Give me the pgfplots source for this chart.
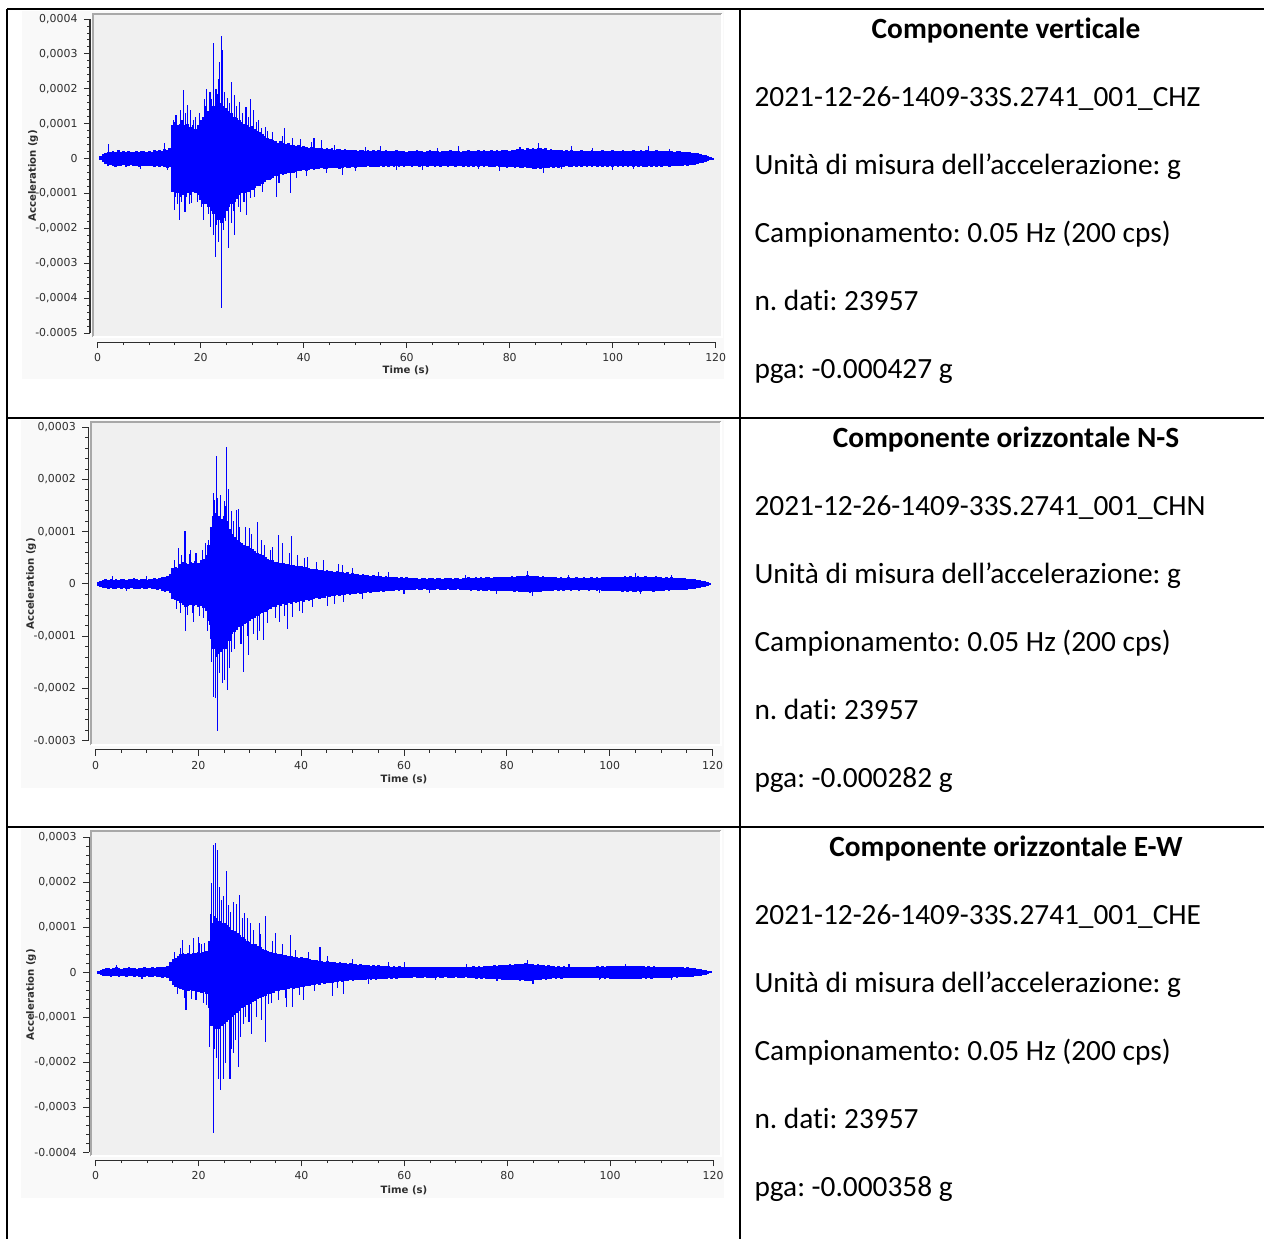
\documentclass[border=0pt]{standalone}
\usepackage{pgfplots}
\pgfplotsset{compat=1.18}
\usepackage{pgfplotstable}
\usepackage{fontspec}
\setmainfont{Carlito}[Ligatures=NoCommon]
\newfontfamily\dv{DejaVu Sans}
\frenchspacing
\definecolor{panel}{HTML}{F9F9F9}
\definecolor{plotbg}{HTML}{F0F0F0}
\definecolor{frm}{HTML}{A8A8A8}
\definecolor{axc}{HTML}{2E2E2E}
\definecolor{trace}{HTML}{0000FF}

% ---- CHZ (values in micro-g) ----
\pgfplotstableread{
t u l
0 0 0
0.5 6 -5
1 12 -10
1.5 16 -15
2 20 -21
2.5 18 -19
3 22 -20
3.5 19 -23
4 24 -20
4.5 19 -21
5 21 -18
5.5 20 -23
6 23 -20
6.5 20 -19
7 18 -22
7.5 22 -20
8 20 -24
8.5 23 -21
9 21 -20
9.5 19 -22
10 23 -20
10.5 20 -22
11 24 -23
11.5 22 -20
12 25 -24
12.5 23 -22
13 28 -25
13.5 26 -28
14 30 -25
14.5 95 -95
15 105 -110
15.5 95 -100
16 100 -110
16.5 110 -105
17 95 -110
17.5 100 -100
18 90 -105
18.5 95 -95
19 85 -100
19.5 95 -105
20 110 -120
20.5 120 -130
21 125 -130
21.5 135 -140
22 140 -150
22.5 150 -160
23 150 -165
23.5 160 -175
24 160 -185
24.5 150 -170
25 145 -150
25.5 135 -140
26 130 -130
26.5 120 -125
27 115 -115
27.5 110 -105
28 105 -100
28.5 100 -100
29 95 -95
29.5 90 -95
30 92 -90
30.5 85 -85
31 80 -80
31.5 75 -78
32 70 -72
32.5 65 -68
33 60 -62
33.5 55 -58
34 52 -55
34.5 50 -50
35 46 -50
35.5 50 -45
36 45 -48
36.5 42 -45
37 44 -40
37.5 40 -42
38 38 -40
38.5 36 -38
39 38 -35
39.5 34 -36
40 35 -33
40.5 32 -35
41 31 -33
41.5 33 -30
42 30 -32
42.5 31 -29
43 29 -31
43.5 30 -28
44 28 -30
44.5 30 -29
45 27 -28
45.5 29 -27
46 26 -28
46.5 28 -26
47 27 -29
47.5 25 -27
48 27 -25
48.5 26 -27
49 24 -26
49.5 26 -24
50 25 -26
50.5 23 -24
51 26 -23
51.5 24 -25
52 22 -24
52.5 25 -22
53 23 -25
53.5 24 -23
54 22 -24
54.5 25 -23
55 23 -22
55.5 22 -25
56 24 -22
56.5 21 -23
57 23 -21
57.5 22 -24
58 24 -22
58.5 21 -23
59 23 -21
59.5 22 -23
60 20 -22
60.5 23 -21
61 21 -23
61.5 22 -20
62 24 -22
62.5 21 -24
63 23 -21
63.5 20 -22
64 22 -23
64.5 24 -21
65 21 -22
65.5 23 -24
66 22 -21
66.5 20 -23
67 23 -22
67.5 21 -20
68 22 -23
68.5 24 -21
69 21 -22
69.5 23 -24
70 22 -21
70.5 20 -22
71 23 -24
71.5 21 -21
72 24 -23
72.5 22 -22
73 21 -24
73.5 23 -21
74 25 -23
74.5 22 -22
75 24 -25
75.5 21 -22
76 23 -24
76.5 25 -23
77 22 -25
77.5 24 -22
78 23 -24
78.5 26 -25
79 24 -23
79.5 25 -26
80 23 -24
80.5 26 -25
81 24 -27
81.5 27 -24
82 25 -26
82.5 28 -27
83 26 -25
83.5 29 -28
84 27 -26
84.5 30 -29
85 28 -31
85.5 31 -28
86 29 -30
86.5 27 -28
87 29 -26
87.5 26 -28
88 27 -25
88.5 25 -27
89 26 -24
89.5 24 -26
90 25 -23
90.5 23 -25
91 24 -22
91.5 22 -24
92 24 -23
92.5 21 -22
93 23 -24
93.5 22 -21
94 24 -23
94.5 21 -22
95 23 -24
95.5 22 -21
96 24 -23
96.5 21 -22
97 23 -24
97.5 22 -21
98 24 -23
98.5 22 -22
99 23 -24
99.5 21 -22
100 24 -23
100.5 22 -21
101 23 -24
101.5 21 -22
102 24 -23
102.5 22 -21
103 23 -24
103.5 21 -22
104 24 -23
104.5 22 -21
105 23 -24
105.5 25 -22
106 22 -24
106.5 24 -23
107 21 -22
107.5 23 -24
108 22 -21
108.5 24 -23
109 21 -22
109.5 23 -24
110 22 -21
110.5 23 -22
111 21 -23
111.5 22 -20
112 20 -22
112.5 22 -21
113 21 -20
113.5 19 -21
114 20 -19
114.5 18 -20
115 19 -18
115.5 17 -18
116 16 -17
116.5 15 -15
117 13 -14
117.5 11 -12
118 9 -9
118.5 7 -7
119 5 -5
119.5 3 -3
120 0 0
}\bandA
\pgfplotstableread{
t v
2.1 43
8.3 -30
13 45
13.6 -33
14.8 110
14.9 -147
15.2 125
15.5 -130
15.85 -176
16.0 140
16.3 -125
16.6 198
16.95 -152
17.0 130
17.4 153
17.8 -130
18.05 139
18.25 -128
18.6 110
18.9 120
19.3 -125
19.8 130
20.2 -140
20.5 -176
20.65 170
21.0 150
21.2 200
21.5 -160
21.8 192
21.9 -195
22.1 170
22.45 330
22.55 -219
22.8 -281
22.97 200
23.0 -190
23.2 185
23.4 227
23.5 -238
23.6 278
24.0 350
24.07 -427
24.3 310
24.4 -205
24.7 190
24.9 -180
25.2 175
25.4 -257
25.6 160
25.9 220
26.0 -185
26.3 -150
26.5 -219
26.65 182
27.0 150
27.3 -140
27.6 163
27.7 -152
28.2 130
28.4 -125
28.8 149
28.9 -162
29.2 120
29.6 170
29.7 -114
30.2 139
30.5 -110
30.8 105
31.2 -80
31.3 110
31.8 87
32.0 -95
32.6 90
33.0 80
33.45 -61
34.0 75
34.75 -109
35.2 -70
35.8 65
36.2 87
37.35 -100
37.8 60
38.6 -55
39.4 55
40.5 -50
41.5 48
42.0 58
43.5 53
44.5 -42
46 40
47.6 -47
50 -36
52 34
55 35
58 -32
63 -33
66 30
70 36
74 -31
78 -35
82 34
85.5 44
86.5 -40
90 -30
92 36
96 30
100 -34
104 -31
107 35
111 28
}\spikeA

% ---- CHN ----
\pgfplotstableread{
t u l
0 0 0
0.5 3 -3
1 6 -5
1.5 8 -7
2 9 -8
2.5 8 -9
3 10 -8
3.5 8 -9
4 9 -10
4.5 8 -8
5 10 -9
5.5 9 -8
6 8 -10
6.5 10 -9
7 9 -8
7.5 11 -9
8 9 -10
8.5 8 -9
9 10 -8
9.5 9 -10
10 8 -9
10.5 10 -8
11 9 -10
11.5 11 -9
12 10 -11
12.5 12 -10
13 14 -13
13.5 13 -15
14 15 -14
14.5 20 -18
15 30 -28
15.5 33 -31
16 30 -33
16.5 38 -36
17 42 -40
17.5 40 -44
18 38 -42
18.5 42 -40
19 40 -43
19.5 44 -41
20 41 -45
20.5 45 -43
21 48 -46
21.5 55 -52
22 75 -70
22.5 110 -105
23 130 -125
23.5 135 -140
24 130 -135
24.5 125 -130
25 130 -125
25.5 120 -125
26 105 -110
26.5 95 -95
27 90 -92
27.5 85 -88
28 80 -82
28.5 78 -80
29 75 -76
29.5 72 -74
30 68 -70
30.5 66 -67
31 64 -65
31.5 60 -62
32 58 -58
32.5 55 -56
33 52 -53
33.5 48 -50
34 46 -47
34.5 45 -44
35 43 -44
35.5 42 -41
36 40 -42
36.5 41 -39
37 38 -40
37.5 39 -37
38 36 -38
38.5 37 -35
39 35 -36
39.5 34 -35
40 35 -33
40.5 32 -34
41 33 -31
41.5 30 -32
42 29 -30
42.5 28 -29
43 29 -27
43.5 26 -28
44 27 -26
44.5 25 -27
45 26 -24
45.5 24 -25
46 25 -23
46.5 23 -24
47 24 -22
47.5 22 -23
48 23 -21
48.5 21 -22
49 22 -20
49.5 20 -21
50 21 -19
50.5 19 -20
51 20 -18
51.5 18 -19
52 19 -17
52.5 17 -18
53 18 -16
53.5 16 -17
54 17 -15
54.5 15 -16
55 16 -15
55.5 15 -14
56 14 -15
56.5 15 -13
57 13 -14
57.5 14 -13
58 13 -14
58.5 14 -12
59 12 -13
59.5 13 -12
60 12 -13
60.5 13 -11
61 11 -12
61.5 12 -11
62 11 -12
62.5 12 -10
63 10 -11
63.5 11 -12
64 12 -10
64.5 10 -11
65 11 -12
65.5 12 -11
66 10 -12
66.5 11 -10
67 12 -11
67.5 10 -12
68 11 -11
68.5 12 -10
69 11 -12
69.5 10 -11
70 12 -12
70.5 11 -10
71 10 -11
71.5 12 -12
72 11 -11
72.5 13 -12
73 12 -13
73.5 11 -12
74 13 -11
74.5 12 -13
75 14 -12
75.5 12 -14
76 13 -13
76.5 14 -12
77 12 -14
77.5 13 -13
78 14 -13
78.5 13 -14
79 14 -13
79.5 13 -14
80 14 -13
80.5 13 -14
81 15 -13
81.5 14 -15
82 16 -14
82.5 15 -16
83 16 -15
83.5 15 -16
84 17 -15
84.5 15 -17
85 16 -15
85.5 15 -16
86 16 -15
86.5 14 -16
87 15 -13
87.5 13 -14
88 14 -13
88.5 13 -14
89 13 -13
89.5 14 -12
90 12 -13
90.5 13 -12
91 12 -13
91.5 11 -12
92 13 -11
92.5 12 -13
93 11 -12
93.5 13 -11
94 12 -13
94.5 11 -12
95 13 -12
95.5 12 -11
96 11 -13
96.5 13 -12
97 12 -11
97.5 13 -13
98 12 -12
98.5 14 -13
99 13 -14
99.5 14 -13
100 14 -13
100.5 13 -14
101 14 -13
101.5 13 -14
102 14 -13
102.5 13 -15
103 15 -14
103.5 14 -15
104 15 -14
104.5 14 -15
105 14 -15
105.5 15 -14
106 14 -15
106.5 14 -14
107 15 -14
107.5 13 -14
108 14 -13
108.5 14 -15
109 15 -14
109.5 13 -14
110 14 -13
110.5 12 -13
111 13 -12
111.5 12 -13
112 13 -12
112.5 11 -12
113 12 -11
113.5 11 -12
114 12 -11
114.5 11 -11
115 10 -11
115.5 10 -10
116 9 -10
116.5 9 -9
117 8 -8
117.5 7 -7
118 6 -6
118.5 5 -5
119 3 -3
119.5 2 -2
120 0 0
}\bandB
\pgfplotstableread{
t v
3.3 15
6 -14
10 16
15.3 45
15.8 -48
16.2 68
16.5 -56
16.8 55
17.4 102
17.45 -91
17.9 -60
18.2 58
18.5 65
18.8 -55
19.1 -72
19.4 60
19.65 59
20.3 -62
20.8 65
21.0 -65
21.4 78
21.8 -90
22.05 84
22.1 -79
22.3 110
22.6 -150
22.9 174
22.95 -216
23.1 160
23.35 -219
23.55 245
23.67 -282
23.8 164
24.2 -170
24.4 170
24.65 -190
25.0 158
25.1 -184
25.3 150
25.43 262
25.6 -203
25.8 181
26.0 -160
26.4 139
26.45 -130
26.8 120
27.1 -125
27.4 142
27.75 143
28.0 110
28.3 -115
28.7 -168
29.2 110
29.5 -100
29.8 -136
30.0 107
30.4 95
30.8 -95
31.45 119
31.5 -107
31.9 -90
32.3 84
32.75 -107
32.9 75
33.4 -75
34.05 65
34.5 70
35.0 -65
35.5 94
35.7 -72
36.4 78
36.8 -62
37.3 -87
37.7 60
38.1 91
38.3 -63
39.2 56
39.6 -52
40.2 -56
40.7 50
41.2 52
42.2 -44
43 42
44.4 46
45.1 -43
46.5 -38
47.2 38
48.0 36
48.2 -34
50 30
52 -28
55 22
57 22
60 -20
65 -18
72 18
78 -20
84 24
85 -23
92 18
98 -18
105 21
106 -20
112 18
}\spikeB

% ---- CHE ----
\pgfplotstableread{
t u l
0 0 0
0.5 3 -3
1 6 -5
1.5 8 -8
2 9 -9
2.5 10 -8
3 8 -10
3.5 9 -9
4 11 -8
4.5 9 -10
5 8 -9
5.5 10 -8
6 9 -10
6.5 11 -9
7 9 -8
7.5 10 -10
8 8 -9
8.5 10 -11
9 9 -9
9.5 11 -10
10 10 -9
10.5 9 -11
11 11 -10
11.5 10 -9
12 12 -11
12.5 11 -10
13 13 -12
13.5 12 -11
14 14 -12
14.5 22 -20
15 30 -28
15.5 33 -32
16 36 -34
16.5 40 -38
17 42 -40
17.5 40 -43
18 43 -41
18.5 41 -40
19 44 -42
19.5 42 -44
20 45 -43
20.5 43 -45
21 46 -44
21.5 48 -47
22 70 -80
22.5 110 -120
23 125 -130
23.5 120 -125
24 115 -125
24.5 110 -120
25 110 -115
25.5 105 -110
26 100 -105
26.5 95 -100
27 92 -95
27.5 88 -90
28 82 -85
28.5 78 -80
29 74 -76
29.5 70 -72
30 68 -70
30.5 64 -66
31 62 -63
31.5 58 -60
32 56 -57
32.5 53 -55
33 50 -52
33.5 48 -49
34 46 -47
34.5 44 -45
35 43 -42
35.5 41 -42
36 40 -39
36.5 38 -40
37 39 -37
37.5 36 -38
38 37 -35
38.5 35 -36
39 34 -35
39.5 33 -34
40 34 -32
40.5 31 -33
41 32 -30
41.5 30 -31
42 28 -29
42.5 27 -28
43 28 -26
43.5 25 -27
44 26 -24
44.5 24 -25
45 25 -23
45.5 23 -24
46 22 -23
46.5 23 -21
47 21 -22
47.5 22 -20
48 20 -21
48.5 21 -19
49 19 -20
49.5 20 -18
50 18 -19
50.5 19 -17
51 17 -18
51.5 18 -16
52 17 -17
52.5 16 -17
53 17 -15
53.5 15 -16
54 16 -15
54.5 15 -16
55 16 -14
55.5 14 -15
56 15 -14
56.5 14 -15
57 15 -13
57.5 13 -14
58 14 -13
58.5 13 -14
59 14 -12
59.5 12 -13
60 13 -12
60.5 12 -13
61 13 -12
61.5 12 -13
62 13 -11
62.5 11 -12
63 12 -13
63.5 13 -12
64 12 -11
64.5 11 -12
65 13 -12
65.5 12 -13
66 11 -12
66.5 13 -11
67 12 -13
67.5 11 -12
68 12 -11
68.5 13 -12
69 12 -13
69.5 11 -12
70 13 -11
70.5 12 -12
71 11 -13
71.5 13 -12
72 12 -11
72.5 13 -13
73 12 -12
73.5 14 -13
74 13 -14
74.5 14 -13
75 13 -14
75.5 15 -13
76 14 -15
76.5 15 -14
77 14 -15
77.5 16 -14
78 15 -16
78.5 16 -15
79 17 -16
79.5 16 -17
80 17 -16
80.5 18 -17
81 17 -18
81.5 18 -17
82 19 -18
82.5 18 -19
83 19 -18
83.5 20 -19
84 19 -20
84.5 18 -19
85 19 -18
85.5 17 -18
86 18 -17
86.5 16 -17
87 17 -15
87.5 15 -16
88 16 -14
88.5 14 -15
89 15 -13
89.5 13 -14
90 14 -13
90.5 13 -14
91 14 -12
91.5 12 -13
92 13 -12
92.5 12 -13
93 13 -12
93.5 12 -13
94 13 -12
94.5 12 -13
95 13 -12
95.5 12 -13
96 13 -12
96.5 12 -13
97 13 -12
97.5 14 -13
98 13 -14
98.5 14 -13
99 13 -14
99.5 14 -13
100 15 -14
100.5 14 -15
101 15 -14
101.5 14 -15
102 15 -14
102.5 14 -15
103 15 -14
103.5 14 -15
104 15 -14
104.5 14 -15
105 15 -14
105.5 14 -15
106 15 -14
106.5 14 -13
107 13 -14
107.5 14 -13
108 13 -14
108.5 14 -13
109 13 -12
109.5 12 -13
110 13 -12
110.5 12 -13
111 13 -12
111.5 12 -13
112 13 -12
112.5 12 -11
113 11 -12
113.5 12 -11
114 11 -11
114.5 10 -11
115 11 -10
115.5 10 -10
116 9 -10
116.5 9 -9
117 8 -8
117.5 7 -7
118 6 -6
118.5 5 -5
119 3 -3
119.5 2 -2
120 0 0
}\bandC
\pgfplotstableread{
t v
4 16
9 -15
15.4 45
15.9 -48
16.4 55
16.9 72
17.2 -58
17.55 -84
18.3 60
18.7 -60
19.0 77
19.5 -62
19.95 79
20.2 65
20.6 64
20.9 -69
21.2 65
21.6 -73
21.9 -70
22.2 -165
22.4 130
22.55 198
22.88 -358
22.9 283
23.0 -170
23.2 288
23.5 -191
23.65 272
23.85 -236
24.0 190
24.2 -190
24.3 -261
24.5 161
24.8 -236
24.85 170
25.3 -202
25.45 226
25.8 150
26.1 -236
26.25 135
26.4 -170
26.75 157
26.8 -180
27.2 -150
27.4 153
27.7 -210
27.9 172
28.2 -143
28.6 120
28.8 -115
29.0 131
29.15 -99
29.5 120
29.8 -110
30.1 109
30.3 -136
30.6 95
31.2 -100
31.75 110
32.0 85
32.3 -106
33.0 125
33.05 -154
33.5 -70
34.2 -69
34.4 70
34.9 88
35.5 -62
36.4 62
36.9 -58
37.15 -76
37.8 83
38.3 -76
38.9 50
39.6 -50
40.4 -61
41.3 45
42.5 -42
43.6 57
45 36
46.1 -53
47 -34
48.2 -48
50 30
53 -26
57 22
60 22
66 -18
72 19
78 -19
84 28
85 -26
92 18
98 -18
103 19
112 -17
}\spikeC

\pgfplotsset{
  seis/.style={
    scale only axis,
    anchor=south west,
    clip=false,
    xmin=0, xmax=120,
    axis x line*=bottom, axis y line*=left,
    axis line style={-, draw=axc, line width=0.4pt},
    xtick={0,20,...,120},
    xticklabels={0,20,40,60,80,100,120},
    minor x tick num=3,
    minor y tick num=4,
    tick align=outside,
    major tick length=2.25pt,
    minor tick length=1.1pt,
    tick style={draw=axc, line width=0.35pt},
    ticklabel style={font=\dv\fontsize{4.1}{5}\selectfont, text=axc},
    xticklabel style={yshift=1.5pt},
    yticklabel style={xshift=1.1pt},
    /pgf/number format/assume math mode=true,
  },
  band/.style={ycomb, draw=trace, line width=1pt},
  spike/.style={ycomb, draw=trace, line width=0.4pt},
}

\begin{document}
\begin{tikzpicture}[x=0.375pt, y=-0.375pt]
\useasboundingbox (0,0) rectangle (1264,1239);
\fill[white] (0,0) rectangle (1264,1239);

% panels
\fill[panel] (22,11) rectangle (724,379);
\fill[panel] (21,420) rectangle (724,788);
\fill[panel] (21,829) rectangle (724,1198);
% plot areas
\fill[plotbg] (93,14) rectangle (722,337);
\fill[plotbg] (91,422) rectangle (721,745);
\fill[plotbg] (91,831) rectangle (721,1156);
\draw[frm, line width=0.6pt] (93,337) -- (93,14) -- (722,14);
\draw[frm, line width=0.6pt] (91,745) -- (91,422) -- (721,422);
\draw[frm, line width=0.6pt] (91,1156) -- (91,831) -- (721,831);
\draw[white, line width=0.6pt] (93,337) -- (722,337) -- (722,14);
\draw[white, line width=0.6pt] (91,745) -- (721,745) -- (721,422);
\draw[white, line width=0.6pt] (91,1156) -- (721,1156) -- (721,831);

% ---- chart 1 ----
\begin{axis}[seis, at={(36.64pt,-124.88pt)}, width=231.75pt, height=117.75pt,
  ymin=-500, ymax=400, ytick={-500,-400,...,400},
  yticklabels={{-0.0005},{-0,0004},{-0,0003},{-0,0002},{-0,0001},{0},{0,0001},{0,0002},{0,0003},{0,0004}},
  axis x line shift=3.4pt, axis y line shift=2.9pt]
\addplot[band] table[x=t, y=u] {\bandA};
\addplot[band] table[x=t, y=l] {\bandA};
\addplot[spike] table[x=t, y=v] {\spikeA};
\end{axis}

% ---- chart 2 ----
\begin{axis}[seis, at={(35.81pt,-277.73pt)}, width=231.4pt, height=117.5pt,
  ymin=-300, ymax=300, ytick={-300,-200,...,300},
  yticklabels={{-0.0003},{-0,0002},{-0,0001},{0},{0,0001},{0,0002},{0,0003}},
  axis x line shift=3.5pt, axis y line shift=2.7pt]
\addplot[band] table[x=t, y=u] {\bandB};
\addplot[band] table[x=t, y=l] {\bandB};
\addplot[spike] table[x=t, y=v] {\spikeB};
\end{axis}

% ---- chart 3 ----
\begin{axis}[seis, at={(35.89pt,-432.11pt)}, width=231.5pt, height=118.1pt,
  ymin=-400, ymax=300, ytick={-400,-300,...,300},
  yticklabels={{-0.0004},{-0,0003},{-0,0002},{-0,0001},{0},{0,0001},{0,0002},{0,0003}},
  axis x line shift=3pt, axis y line shift=2.5pt]
\addplot[band] table[x=t, y=u] {\bandC};
\addplot[band] table[x=t, y=l] {\bandC};
\addplot[spike] table[x=t, y=v] {\spikeC};
\end{axis}

% axis titles
\begin{scope}[every node/.style={font=\dv\bfseries\fontsize{3.8}{4.5}\selectfont, text=axc, inner sep=0pt}]
\node[rotate=90] at (33,176) {Acceleration (g)};
\node[rotate=90] at (31,584) {Acceleration (g)};
\node[rotate=90] at (31,995) {Acceleration (g)};
\node at (406,370) {Time (s)};
\node at (404,779) {Time (s)};
\node at (404,1190) {Time (s)};
\end{scope}

% table rules
\draw[black, line width=0.8pt] (7,9) -- (1270,9);
\draw[black, line width=0.8pt] (7,418) -- (1270,418);
\draw[black, line width=0.8pt] (7,827) -- (1270,827);
\draw[black, line width=0.8pt] (7,9) -- (7,1245);
\draw[black, line width=0.8pt] (740,9) -- (740,1245);

% right column text
\begin{scope}[every node/.style={font=\fontsize{11}{13}\selectfont, inner sep=0pt}]
\node[anchor=base, font=\fontsize{11}{13}\selectfont\bfseries] at (1006,38) {Componente verticale};
\node[anchor=base west] at (754,106) {2021-12-26-1409-33S.2741\_001\_CHZ};
\node[anchor=base west] at (754,174) {Unità di misura dell’accelerazione: g};
\node[anchor=base west] at (754,242) {Campionamento: 0.05 Hz (200 cps)};
\node[anchor=base west] at (754,310) {n. dati: 23957};
\node[anchor=base west] at (754,378) {pga: -0.000427 g};

\node[anchor=base, font=\fontsize{11}{13}\selectfont\bfseries] at (1006,447) {Componente orizzontale N-S};
\node[anchor=base west] at (754,515) {2021-12-26-1409-33S.2741\_001\_CHN};
\node[anchor=base west] at (754,583) {Unità di misura dell’accelerazione: g};
\node[anchor=base west] at (754,651) {Campionamento: 0.05 Hz (200 cps)};
\node[anchor=base west] at (754,719) {n. dati: 23957};
\node[anchor=base west] at (754,787) {pga: -0.000282 g};

\node[anchor=base, font=\fontsize{11}{13}\selectfont\bfseries] at (1006,856) {Componente orizzontale E-W};
\node[anchor=base west] at (754,924) {2021-12-26-1409-33S.2741\_001\_CHE};
\node[anchor=base west] at (754,992) {Unità di misura dell’accelerazione: g};
\node[anchor=base west] at (754,1060) {Campionamento: 0.05 Hz (200 cps)};
\node[anchor=base west] at (754,1128) {n. dati: 23957};
\node[anchor=base west] at (754,1196) {pga: -0.000358 g};
\end{scope}
\end{tikzpicture}
\end{document}
